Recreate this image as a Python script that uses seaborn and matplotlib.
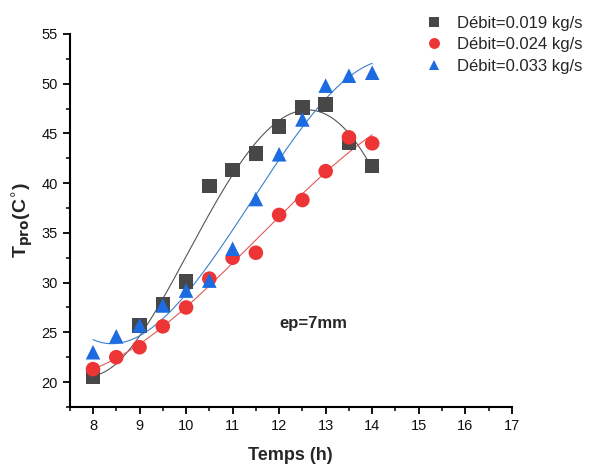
import numpy as np
import pandas as pd
import matplotlib
matplotlib.use("Agg")
import matplotlib.pyplot as plt
import seaborn as sns
from matplotlib.ticker import MultipleLocator

# Measured probe temperature versus time for three mass flow rates
temps_019 = [8, 9, 9.5, 10, 10.5, 11, 11.5, 12, 12.5, 13, 13.5, 14]
tpro_019 = [20.5, 25.7, 27.8, 30.1, 39.7, 41.3, 43.0, 45.7, 47.6, 47.9, 44.1, 41.7]

temps_024 = [8, 8.5, 9, 9.5, 10, 10.5, 11, 11.5, 12, 12.5, 13, 13.5, 14]
tpro_024 = [21.3, 22.5, 23.5, 25.6, 27.5, 30.4, 32.5, 33.0, 36.8, 38.3, 41.2, 44.6, 44.0]

temps_033 = [8, 8.5, 9, 9.5, 10, 10.5, 11, 11.5, 12, 12.5, 13, 13.5, 14]
tpro_033 = [23.0, 24.6, 25.7, 27.7, 29.2, 30.2, 33.4, 38.4, 42.9, 46.4, 49.8, 50.8, 51.1]

series_labels = ["Débit=0.019 kg/s", "Débit=0.024 kg/s", "Débit=0.033 kg/s"]
fit_degree = [4, 3, 3]
x_ticks = list(range(8, 18))
y_ticks = list(range(20, 56, 5))

sns.set_theme(style="ticks")
plt.rcParams["font.family"] = ["Liberation Sans", "DejaVu Sans"]

frames = []
fits = []
for lab, deg, xs, ys in zip(series_labels, fit_degree,
                            [temps_019, temps_024, temps_033],
                            [tpro_019, tpro_024, tpro_033]):
    frames.append(pd.DataFrame({"Temps": xs, "Tpro": ys, "Série": lab}))
    coef = np.polyfit(xs, ys, deg)
    xf = np.linspace(min(xs), max(xs), 200)
    fits.append(pd.DataFrame({"Temps": xf, "Tpro": np.polyval(coef, xf), "Série": lab}))
data = pd.concat(frames, ignore_index=True)
fit = pd.concat(fits, ignore_index=True)

marker_colors = {series_labels[0]: "#474747", series_labels[1]: "#ee3535", series_labels[2]: "#1c6be0"}
line_colors = {series_labels[0]: "#555555", series_labels[1]: "#e05a5a", series_labels[2]: "#3a7fd0"}
markers = {series_labels[0]: "s", series_labels[1]: "o", series_labels[2]: "^"}

fig = plt.figure(figsize=(5.91, 4.71), dpi=100)
ax = fig.add_axes([0.118, 0.136, 0.748, 0.792])

sns.lineplot(data=fit, x="Temps", y="Tpro", hue="Série", palette=line_colors,
             linewidth=0.8, legend=False, ax=ax, sort=False)
sns.scatterplot(data=data, x="Temps", y="Tpro", hue="Série", style="Série",
                palette=marker_colors, markers=markers, s=110, linewidth=0,
                ax=ax, zorder=3)

ax.set_xlim(7.5, 17)
ax.set_ylim(17.5, 55)
ax.set_xticks(x_ticks)
ax.set_yticks(y_ticks)
ax.xaxis.set_minor_locator(MultipleLocator(0.5))
ax.yaxis.set_minor_locator(MultipleLocator(2.5))
ax.tick_params(which="major", direction="out", length=5, width=1.3,
               labelsize=10.5, color="black", labelcolor="#111111")
ax.tick_params(which="minor", direction="out", length=3, width=1.1, color="black")
for side in ["left", "bottom"]:
    ax.spines[side].set_linewidth(1.5)
    ax.spines[side].set_color("black")
sns.despine(ax=ax)

ax.set_xlabel("Temps (h)", fontsize=13, fontweight="bold", labelpad=10)
ax.set_ylabel(r"T$_{\mathbf{pro}}$(C$^{\circ}$)", fontsize=14, fontweight="bold", labelpad=4)

ax.text(12.0, 25.9, "ep=7mm", fontsize=12, fontweight="bold", va="center", ha="left")

handles, labels = ax.get_legend_handles_labels()
ax.legend(handles=handles, labels=labels, loc="upper left",
          bbox_to_anchor=(0.695, 0.998), bbox_transform=fig.transFigure,
          frameon=False, fontsize=12, handlelength=1.0, handletextpad=0.9,
          labelspacing=0.38, markerscale=0.75, borderaxespad=0.5)

fig.savefig("out.png", dpi=100)
